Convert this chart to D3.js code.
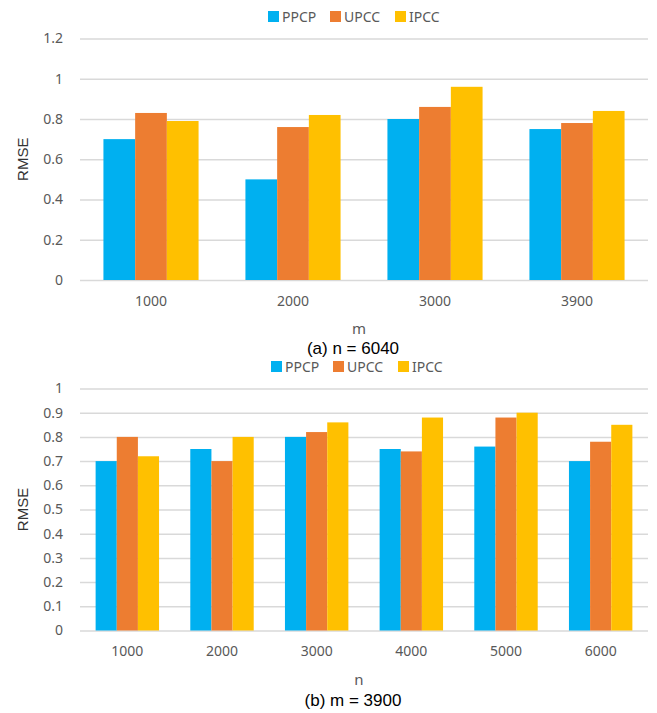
<!DOCTYPE html>
<html>
<head>
<meta charset="utf-8">
<script src="https://cdn.jsdelivr.net/npm/d3@7"></script>
<style>
  body { margin: 0; background: #fff; }
  svg text { font-family: "Noto Sans", sans-serif; }
</style>
</head>
<body>
<script>
// data
const seriesNames = ['PPCP', 'UPCC', 'IPCC'];
const seriesColors = ['#00B0F0', '#ED7D31', '#FFC000'];

const mCategories = ['1000', '2000', '3000', '3900'];
const ppcpA = [0.70, 0.50, 0.80, 0.75];
const upccA = [0.83, 0.76, 0.86, 0.78];
const ipccA = [0.79, 0.82, 0.96, 0.84];
const yTicksA = [0, 0.2, 0.4, 0.6, 0.8, 1, 1.2];

const nCategories = ['1000', '2000', '3000', '4000', '5000', '6000'];
const ppcpB = [0.70, 0.75, 0.80, 0.75, 0.76, 0.70];
const upccB = [0.80, 0.70, 0.82, 0.74, 0.88, 0.78];
const ipccB = [0.72, 0.80, 0.86, 0.88, 0.90, 0.85];
const yTicksB = [0, 0.1, 0.2, 0.3, 0.4, 0.5, 0.6, 0.7, 0.8, 0.9, 1];

const svg = d3.select('body').append('svg')
  .attr('width', 657)
  .attr('height', 713);

function drawChart(opts) {
  const g = svg.append('g');

  const x = d3.scaleBand()
    .domain(opts.categories)
    .range([opts.left, opts.right])
    .paddingInner(0.33)
    .paddingOuter(0.165);

  const xs = d3.scaleBand()
    .domain(seriesNames)
    .range([0, x.bandwidth()]);

  const y = d3.scaleLinear()
    .domain([0, opts.yMax])
    .range([opts.bottom, opts.top]);

  // gridlines
  const yAxis = d3.axisLeft(y)
    .tickValues(opts.ticks)
    .tickSize(-(opts.right - opts.left))
    .tickPadding(17)
    .tickFormat(d => d3.format('~g')(d));

  const yg = g.append('g')
    .attr('transform', `translate(${opts.left},0)`)
    .call(yAxis);
  yg.select('.domain').remove();
  yg.selectAll('line').attr('stroke', '#d9d9d9').attr('stroke-width', 1.5);
  yg.selectAll('text')
    .attr('fill', '#595959')
    .style('font-size', '14px');

  // bars
  const rows = opts.categories.map((c, i) => ({
    cat: c,
    vals: seriesNames.map((s, j) => ({ s, v: opts.series[j][i], color: seriesColors[j] }))
  }));

  const groups = g.selectAll('.grp')
    .data(rows)
    .enter().append('g')
    .attr('class', 'grp')
    .attr('transform', d => `translate(${x(d.cat)},0)`);

  groups.selectAll('rect')
    .data(d => d.vals)
    .enter().append('rect')
    .attr('x', d => xs(d.s))
    .attr('width', xs.bandwidth())
    .attr('y', d => y(d.v))
    .attr('height', d => opts.bottom - y(d.v))
    .attr('fill', d => d.color);

  // x axis labels
  const xAxis = d3.axisBottom(x).tickSize(0).tickPadding(16);
  const xg = g.append('g')
    .attr('transform', `translate(0,${opts.bottom})`)
    .call(xAxis);
  xg.select('.domain').remove();
  xg.selectAll('text')
    .attr('fill', '#595959')
    .style('font-size', '14px');

  // y title
  g.append('text')
    .attr('transform', `translate(${opts.yTitleX},${(opts.top + opts.bottom) / 2}) rotate(-90)`)
    .attr('text-anchor', 'middle')
    .attr('fill', '#333')
    .style('font-family', 'Liberation Sans, Arial, sans-serif')
    .style('font-size', '15px')
    .text('RMSE');

  // x title
  g.append('text')
    .attr('x', (opts.left + opts.right) / 2 - 5)
    .attr('y', opts.xTitleY)
    .attr('text-anchor', 'middle')
    .attr('fill', '#595959')
    .style('font-size', '15px')
    .text(opts.xTitle);

  // caption
  g.append('text')
    .attr('x', (opts.left + opts.right) / 2 - 11)
    .attr('y', opts.captionY)
    .attr('text-anchor', 'middle')
    .attr('fill', '#000')
    .style('font-family', 'Liberation Sans, Arial, sans-serif')
    .style('font-size', '17px')
    .text(opts.caption);

  // legend
  const leg = g.append('g').attr('transform', `translate(${opts.legendX},${opts.legendY})`);
  const legendOffsets = [0, 62, 127];
  seriesNames.forEach((s, i) => {
    const li = leg.append('g').attr('transform', `translate(${legendOffsets[i]},0)`);
    li.append('rect')
      .attr('x', 0).attr('y', -11)
      .attr('width', 11).attr('height', 11)
      .attr('fill', seriesColors[i]);
    li.append('text')
      .attr('x', 14).attr('y', 0)
      .attr('fill', '#595959')
      .style('font-size', '14px')
      .text(s);
  });
}

drawChart({
  categories: mCategories,
  series: [ppcpA, upccA, ipccA],
  ticks: yTicksA,
  yMax: 1.2,
  left: 80, right: 648,
  top: 38.5, bottom: 280,
  yTitleX: 28,
  xTitle: 'm', xTitleY: 334,
  caption: '(a) n = 6040', captionY: 354,
  legendX: 268, legendY: 22
});

drawChart({
  categories: nCategories,
  series: [ppcpB, upccB, ipccB],
  ticks: yTicksB,
  yMax: 1,
  left: 80, right: 648,
  top: 388.5, bottom: 630.5,
  yTitleX: 28,
  xTitle: 'n', xTitleY: 685,
  caption: '(b) m = 3900', captionY: 706,
  legendX: 271, legendY: 372
});
</script>
</body>
</html>
